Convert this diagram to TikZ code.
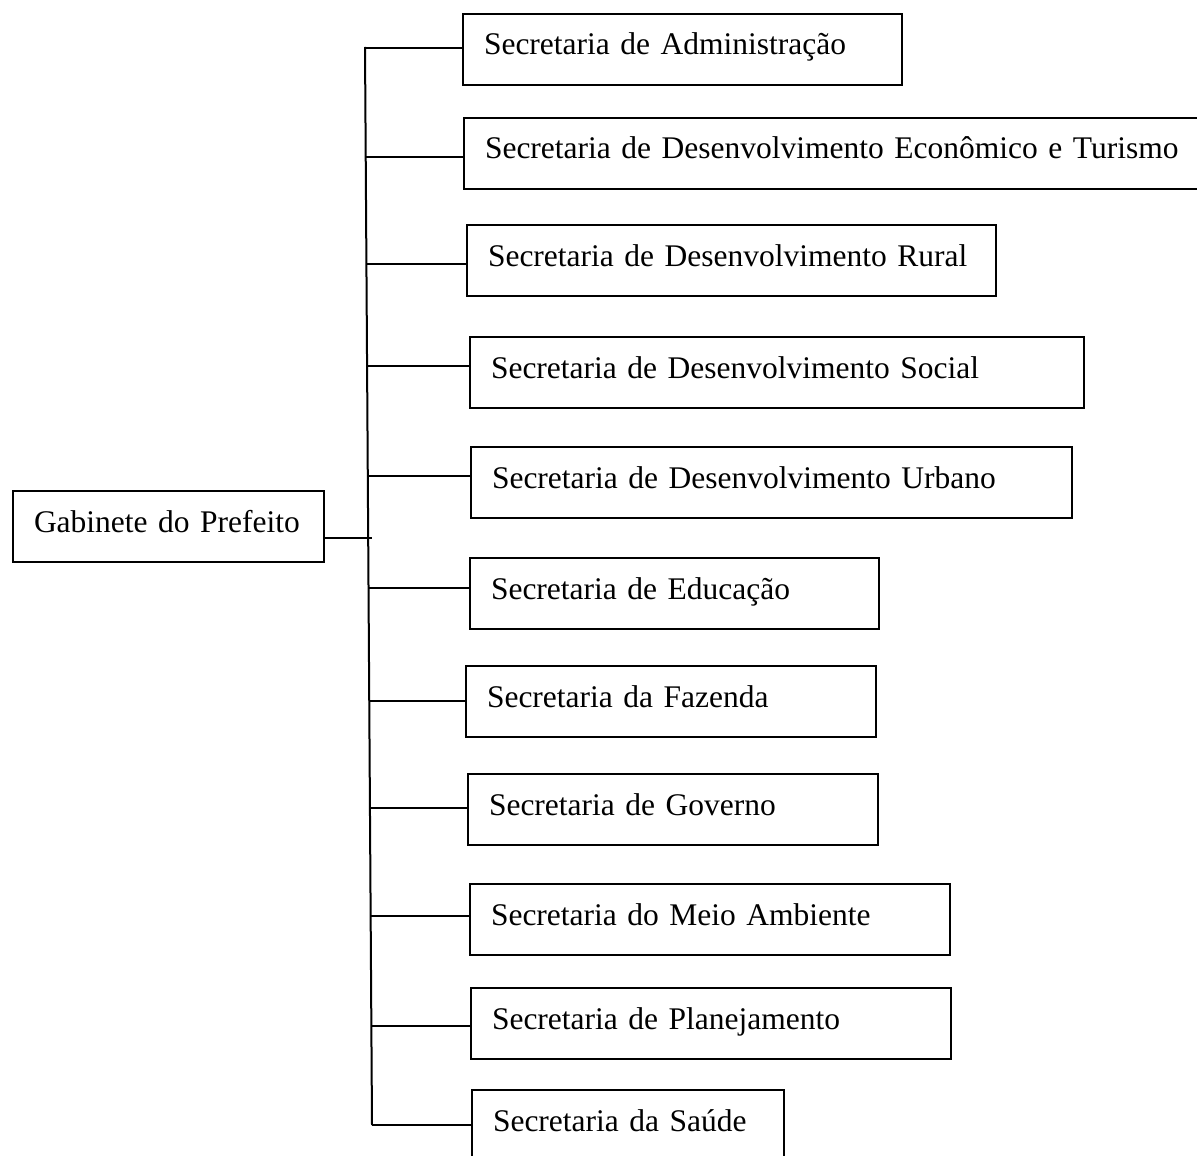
\documentclass[tikz,border=0pt]{standalone}
\usepackage{fontspec}
\setmainfont{Liberation Serif}
\usetikzlibrary{calc}
\tikzset{
  box/.style={draw, line width=1pt, anchor=north west, inner xsep=10.5pt, inner ysep=0pt,
    text height=20.5pt, text depth=15pt, align=left,
    font=\fontsize{15.75}{18}\selectfont},
  link/.style={line width=1pt}
}
\begin{document}
\begin{tikzpicture}[x=0.5pt,y=-0.5pt]
\useasboundingbox (0,0) rectangle (1197,1155);
\clip (0,0) rectangle (1197,1155);
\node[box, text width=134.5pt] (g) at (12,490) {Gabinete do Prefeito};
\node[box, text width=198.5pt] (b1) at (462,13) {Secretaria de Administração};
\node[box, text width=349pt] (b2) at (463,117) {Secretaria de Desenvolvimento Econômico e Turismo};
\node[box, text width=243.5pt] (b3) at (466,224) {Secretaria de Desenvolvimento Rural};
\node[box, text width=286pt] (b4) at (469,336) {Secretaria de Desenvolvimento Social};
\node[box, text width=279.5pt] (b5) at (470,446) {Secretaria de Desenvolvimento Urbano};
\node[box, text width=183.5pt] (b6) at (469,557) {Secretaria de Educação};
\node[box, text width=184pt] (b7) at (465,665) {Secretaria da Fazenda};
\node[box, text width=184pt] (b8) at (467,773) {Secretaria de Governo};
\node[box, text width=219pt] (b9) at (469,883) {Secretaria do Meio Ambiente};
\node[box, text width=219pt] (b10) at (470,987) {Secretaria de Planejamento};
\node[box, text width=135pt] (b11) at (471,1089) {Secretaria da Saúde};
% trunk
\coordinate (top) at (365,47);
\coordinate (bot) at (372,1125);
\draw[link] (top) -- (bot);
\coordinate (t1) at (366.0,48);
\coordinate (t2) at (365.7,157);
\coordinate (t3) at (366.4,264);
\coordinate (t4) at (367.1,366);
\coordinate (t5) at (367.8,476);
\coordinate (t6) at (368.5,588);
\coordinate (t7) at (369.2,701);
\coordinate (t8) at (369.9,808);
\coordinate (t9) at (370.6,916);
\coordinate (t10) at (371.4,1026);
\coordinate (t11) at (372.0,1125);
\coordinate (tg) at (372,538);
\foreach \i in {1,...,11} {
  \draw[link] (t\i) -- (t\i -| b\i.west);
}
\draw[link] (tg -| g.east) -- (tg);
\end{tikzpicture}
\end{document}
